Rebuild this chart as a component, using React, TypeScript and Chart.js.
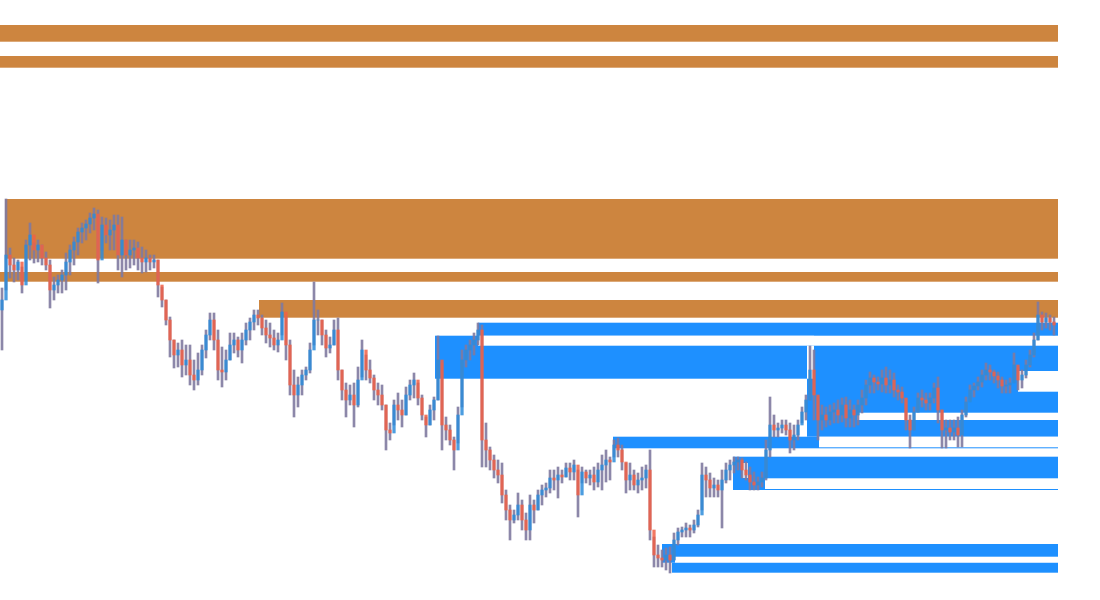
import React, { useEffect, useRef } from "react";
import { Chart, registerables } from "chart.js";

Chart.register(...registerables);

// Candle series (price units), one candle per slot
const highs = [
  312, 401, 352, 342, 340, 333, 360, 377, 357, 360,
  355, 348, 340, 323, 325, 330, 347, 355, 363, 372,
  377, 380, 387, 392, 390, 383, 382, 380, 385, 385,
  383, 360, 360, 360, 358, 353, 350, 345, 345, 340,
  313, 300, 283, 260, 257, 260, 255, 255, 240, 247,
  255, 270, 287, 287, 270, 253, 250, 267, 267, 263,
  267, 277, 282, 290, 290, 285, 280, 277, 270, 267,
  297, 283, 260, 230, 223, 230, 233, 257, 318, 290,
  280, 270, 263, 280, 282, 230, 217, 215, 217, 233,
  260, 245, 240, 225, 217, 215, 195, 177, 200, 207,
  200, 213, 220, 227, 217, 205, 183, 195, 203, 264,
  237, 183, 175, 163, 193, 250, 255, 260, 267, 277,
  275, 177, 153, 145, 140, 137, 110, 95, 90, 107,
  100, 87, 105, 100, 110, 115, 117, 130, 130, 133,
  130, 137, 137, 140, 130, 133, 130, 130, 133, 137,
  145, 150, 143, 160, 162, 155, 137, 137, 130, 127,
  133, 135, 150, 63, 55, 50, 52, 53, 67, 72,
  73, 77, 75, 80, 90, 137, 133, 127, 122, 120,
  130, 137, 140, 143, 143, 142, 138, 133, 128, 123,
  128, 160, 203, 185, 177, 180, 180, 177, 175, 180,
  193, 205, 254, 250, 203, 195, 193, 195, 197, 200,
  202, 203, 200, 195, 200, 210, 220, 228, 225, 223,
  230, 233, 230, 227, 215, 213, 200, 185, 193, 207,
  210, 207, 207, 217, 223, 190, 180, 180, 180, 183,
  190, 203, 215, 217, 223, 230, 237, 235, 230, 228,
  223, 220, 222, 247, 232, 230, 240, 250, 267, 298,
  288, 287, 285, 283,
];

const lows = [
  250, 310, 322, 318, 320, 307, 320, 340, 337, 338,
  335, 330, 292, 300, 307, 307, 310, 325, 335, 345,
  357, 360, 367, 370, 317, 350, 357, 350, 350, 330,
  323, 330, 332, 335, 330, 327, 328, 330, 332, 303,
  293, 275, 243, 232, 233, 223, 225, 215, 210, 215,
  225, 242, 260, 250, 220, 213, 220, 240, 247, 243,
  237, 255, 260, 270, 275, 265, 257, 253, 250, 248,
  265, 240, 205, 183, 193, 205, 220, 227, 255, 265,
  255, 243, 247, 255, 220, 200, 183, 195, 173, 193,
  223, 220, 217, 200, 195, 190, 150, 160, 175, 180,
  173, 185, 200, 202, 195, 180, 163, 175, 180, 200,
  150, 160, 155, 130, 157, 193, 233, 240, 245, 255,
  133, 133, 130, 122, 117, 97, 80, 60, 77, 80,
  70, 60, 60, 77, 90, 95, 103, 107, 110, 102,
  117, 123, 120, 120, 83, 117, 117, 115, 110, 113,
  110, 118, 120, 143, 143, 130, 107, 110, 110, 107,
  110, 112, 60, 33, 33, 33, 30, 27, 40, 55,
  63, 63, 63, 67, 73, 90, 103, 103, 103, 103,
  72, 117, 120, 127, 130, 122, 120, 110, 110, 110,
  113, 120, 143, 163, 163, 167, 165, 147, 150, 160,
  177, 180, 200, 180, 160, 170, 173, 175, 177, 177,
  178, 173, 173, 173, 175, 187, 195, 207, 207, 210,
  208, 207, 207, 203, 200, 197, 170, 152, 170, 188,
  193, 190, 190, 197, 177, 152, 152, 160, 160, 153,
  153, 183, 200, 203, 210, 213, 220, 220, 217, 212,
  207, 207, 207, 220, 210, 212, 222, 233, 243, 260,
  270, 272, 270, 265,
];

const closes = [
  300, 345, 335, 330, 338, 315, 355, 365, 350, 355,
  342, 335, 310, 315, 320, 325, 338, 350, 358, 368,
  372, 376, 382, 386, 340, 375, 365, 370, 375, 345,
  360, 345, 350, 352, 342, 338, 342, 338, 340, 315,
  300, 280, 260, 245, 250, 235, 240, 225, 220, 230,
  250, 265, 280, 260, 230, 228, 240, 255, 260, 250,
  260, 270, 278, 285, 282, 272, 265, 262, 255, 260,
  288, 255, 215, 205, 215, 225, 230, 250, 280, 280,
  265, 252, 255, 270, 230, 210, 200, 205, 195, 220,
  250, 230, 222, 210, 205, 195, 170, 167, 195, 190,
  185, 205, 215, 220, 202, 185, 175, 190, 200, 240,
  175, 170, 160, 150, 185, 240, 250, 255, 260, 270,
  160, 150, 140, 130, 125, 105, 90, 80, 85, 95,
  80, 70, 95, 90, 105, 110, 112, 122, 120, 125,
  123, 132, 128, 135, 105, 128, 122, 125, 118, 130,
  135, 140, 138, 155, 150, 138, 120, 125, 115, 120,
  122, 130, 70, 45, 42, 40, 45, 40, 60, 68,
  70, 72, 70, 75, 85, 125, 120, 112, 115, 110,
  120, 130, 135, 138, 140, 130, 125, 118, 115, 118,
  122, 150, 175, 170, 172, 175, 170, 160, 165, 175,
  188, 200, 230, 205, 180, 185, 180, 188, 190, 185,
  195, 182, 190, 185, 195, 202, 215, 222, 218, 216,
  222, 215, 220, 210, 208, 202, 180, 170, 188, 202,
  200, 197, 202, 212, 190, 170, 172, 168, 172, 165,
  185, 198, 210, 214, 218, 225, 230, 228, 224, 220,
  214, 215, 217, 235, 220, 225, 235, 245, 260, 285,
  278, 282, 278, 275,
];

const firstOpen = 290;
const X_END = 264.5;

// Zones: [startBar, endBar, lowPrice, highPrice]
const supplyZones = [
  [0, X_END, 558.3, 575],
  [0, X_END, 532.3, 544],
  [1.25, X_END, 341.3, 401],
  [0, X_END, 318.3, 328],
  [64.75, X_END, 282.3, 300],
];

const demandZones = [
  [108.75, 203.5, 221.3, 264.3],
  [119.5, X_END, 264.3, 277.3],
  [153.25, X_END, 151.7, 163.3],
  [201.75, X_END, 163.3, 254.3],
  [183.25, X_END, 110, 143.3],
  [165.5, X_END, 37.3, 56],
  [168, X_END, 27.3, 37.3],
];

const mitigatedZones = [
  [119.5, 203.5, 254.3, 264.3],
  [201.75, 203.5, 221.3, 254.3],
  [214.25, X_END, 180, 187.3],
  [254.5, X_END, 208.3, 229],
  [204.75, X_END, 152.7, 163.3],
  [191.25, X_END, 111, 121.7],
  [185.5, 187, 122, 137],
  [168.75, X_END, 37.3, 43.3],
];

const UP = "rgba(45,140,218,0.85)";
const DOWN = "rgba(240,96,70,0.85)";
const WICK = "rgba(128,122,160,0.9)";

const zonePlugin = {
  id: "zones",
  beforeDatasetsDraw(chart: any) {
    const { ctx } = chart;
    const xs = chart.scales.x;
    const ys = chart.scales.y;
    const draw = (zones: number[][], color: string) => {
      ctx.fillStyle = color;
      zones.forEach(([x0, x1, lo, hi]) => {
        const px0 = xs.getPixelForValue(x0);
        const px1 = xs.getPixelForValue(x1);
        const py0 = ys.getPixelForValue(hi);
        const py1 = ys.getPixelForValue(lo);
        ctx.fillRect(px0, py0, px1 - px0, py1 - py0);
      });
    };
    ctx.save();
    draw(supplyZones, "#CD853F");
    draw(demandZones, "#1E90FF");
    draw(mitigatedZones, "#FFFFFF");
    ctx.restore();
  },
};

export default function App() {
  const ref = useRef<HTMLCanvasElement>(null);

  useEffect(() => {
    if (!ref.current) return;
    const opens = closes.map((_, i) => (i === 0 ? firstOpen : closes[i - 1]));
    const colors = closes.map((c, i) => (c >= opens[i] ? UP : DOWN));
    const wicks = highs.map((h, i) => ({ x: i + 0.5, y: [lows[i], h] }));
    const bodies = closes.map((c, i) => ({ x: i + 0.5, y: [opens[i], c] }));

    const chart = new Chart(ref.current, {
      type: "bar",
      data: {
        datasets: [
          {
            label: "wick",
            data: wicks as any,
            backgroundColor: WICK,
            barThickness: 2,
            grouped: false,
            order: 2,
          } as any,
          {
            label: "body",
            data: bodies as any,
            backgroundColor: colors,
            barThickness: 2.6,
            grouped: false,
            order: 1,
          } as any,
        ],
      },
      options: {
        animation: false,
        responsive: true,
        maintainAspectRatio: false,
        layout: { padding: { left: 0, right: 42, top: 0, bottom: 0 } },
        plugins: { legend: { display: false }, tooltip: { enabled: false } },
        scales: {
          x: {
            type: "linear",
            min: 0,
            max: X_END,
            display: false,
            offset: false,
            grid: { offset: false },
          },
          y: { type: "linear", min: 0, max: 600, display: false },
        },
      },
      plugins: [zonePlugin],
    });
    return () => chart.destroy();
  }, []);

  return (
    <div style={{ position: "absolute", left: 0, top: 0, width: 1100, height: 600, background: "#fff" }}>
      <canvas ref={ref} />
    </div>
  );
}
